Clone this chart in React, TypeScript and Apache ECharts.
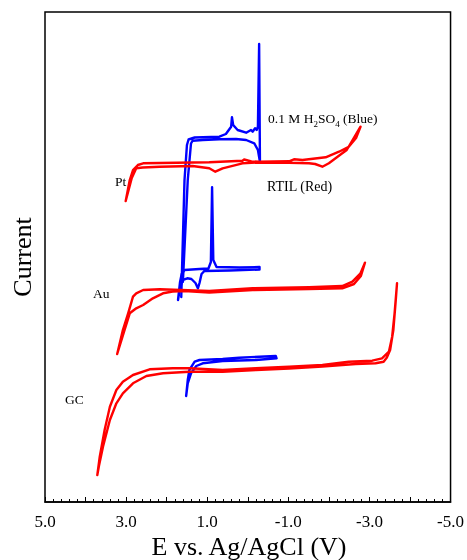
import React, { useEffect, useRef } from "react";
import * as echarts from "echarts";

// Tick labels shown on the potential axis
const xTickLabels = ["5.0", "3.0", "1.0", "-1.0", "-3.0", "-5.0"];

// Pt electrode, RTIL (red) — potential (V) / current (a.u.)
const ptRtilE = [3.01, 2.91, 2.83, 2.71, 2.58, 1.76, 0.95, 0.13, 0.09, -0.09, -0.28, -1.02, -1.14, -1.35, -1.92, -2.25, -2.49, -2.67, -2.78,
  -2.44, -2.33, -2.0, -1.84, -1.66, -1.51, -1.02, -0.28, 0.13, 0.62, 0.8, 0.95, 1.36, 2.17, 2.59, 2.75, 2.86, 3.01];
const ptRtilI = [301, 322, 332, 337, 338.7, 339.3, 339.7, 341.3, 342.5, 340.5, 340.3, 340.7, 342.7, 342, 344.7, 350.3, 355.3, 364, 375.3,
  352, 348.7, 338.7, 335.3, 338, 338.7, 339.3, 339.5, 338.7, 333.7, 330.3, 333.7, 336, 335.3, 334.5, 333.7, 324, 301];

// Pt electrode, 0.1 M H2SO4 (blue)
const ptAcidE = [1.64, 1.56, 1.5, 1.46, 1.31, 0.7, 0.54, 0.41, 0.39, 0.36, 0.25, 0.04, -0.08, -0.12, -0.18, -0.22, -0.25, -0.28, -0.3,
  -0.25, -0.16, 0.04, 0.29, 0.7, 1.11, 1.36, 1.4, 1.48, 1.6];
const ptAcidI = [205, 322, 357, 362.5, 364.5, 365.3, 368, 375.3, 384.7, 377, 372, 369.3, 372, 370.3, 373.7, 372, 375.3, 458, 340.3,
  352, 358.7, 362, 363, 362.7, 362, 361.3, 358.5, 322, 220];

// Au electrode, RTIL (red)
const auRtilE = [3.22, 3.08, 2.95, 2.83, 2.75, 2.58, 2.17, 0.95, -0.12, -1.51, -2.33, -2.58, -2.78, -2.89,
  -2.79, -2.62, -2.33, -1.51, -0.12, 0.95, 1.56, 1.85, 2.09, 2.34, 2.58, 2.75, 2.91, 3.06, 3.22];
const auRtilI = [148, 172, 188.7, 205.3, 208.7, 212, 212.7, 211, 213.7, 214.7, 216, 220.3, 228.7, 239.3,
  226, 218, 213.7, 213, 212, 209.5, 211, 210.5, 208.7, 203.7, 197, 193.7, 188.7, 169, 148];

// Au electrode, 0.1 M H2SO4 (blue)
const auAcidE = [1.72, 1.67, 1.63, 1.56, 1.19, 0.97, 0.91, 0.88, 0.85, 0.77, 0.21, -0.29,
  -0.29, 0.45, 1.07, 1.14, 1.19, 1.23, 1.29, 1.39, 1.49, 1.61, 1.68, 1.72];
const auAcidI = [202, 220, 228, 232, 233, 233.5, 240, 314.7, 242, 235, 234.5, 235,
  232.5, 231.5, 231, 228, 219, 213.7, 219, 223, 223.7, 222, 212, 202];

// GC electrode, RTIL (red)
const gcRtilE = [3.71, 3.65, 3.53, 3.4, 3.24, 3.08, 2.83, 2.42, 1.85, 1.44, 0.62, -0.2, -1.02, -1.84, -2.49, -3.07, -3.31, -3.48, -3.56, -3.62, -3.68,
  -3.65, -3.59, -3.51, -3.43, -3.35, -3.15, -2.66, -1.84, -1.02, -0.2, 0.62, 1.44, 2.09, 2.5, 2.83, 3.08, 3.24, 3.4, 3.57, 3.67, 3.71];
const gcRtilI = [27, 45.3, 72, 95.3, 112, 120.3, 127, 132.7, 133.7, 133.7, 132, 133.7, 135.3, 137, 140.3, 141.3, 143.7, 150.3, 165.3, 188.7, 218.7,
  202, 172, 152, 144.5, 140.3, 138.7, 138, 135.5, 133.5, 132, 130.3, 130.3, 128.7, 126, 118.7, 108.7, 98.7, 82, 55.3, 36, 27];

// GC electrode, 0.1 M H2SO4 (blue)
const gcAcidE = [1.52, 1.48, 1.44, 1.31, 1.19, 0.62, 0.21, -0.69, -0.71, -0.2, 0.62, 1.11, 1.27, 1.4, 1.48, 1.52];
const gcAcidI = [106, 122, 132, 140.3, 142, 143, 144.3, 146, 143.7, 142, 141, 138.7, 136, 128.7, 118.7, 106];

const zip = (e: number[], i: number[]) => e.map((v, k) => [v, i[k]]);

const RED = "#ff0000";
const BLUE = "#0000ff";
const FONT = "Liberation Serif";

export default function App() {
  const ref = useRef<HTMLDivElement>(null);
  useEffect(() => {
    if (!ref.current) return;
    const chart = echarts.init(ref.current, null, { renderer: "svg" });
    const mk = (name: string, e: number[], i: number[], color: string) => ({
      name,
      type: "line",
      data: zip(e, i),
      showSymbol: false,
      symbol: "none",
      smooth: false,
      lineStyle: { color, width: 2.4, join: "round", cap: "round" },
      z: color === RED ? 3 : 2,
    });
    const txt = (x: number, y: number, text: string, size = 13.5, extra: any = {}) => ({
      type: "text",
      x,
      y,
      style: { text, fontFamily: FONT, fontSize: size, fill: "#000", textVerticalAlign: "middle", ...extra },
    });
    chart.setOption({
      animation: false,
      grid: { left: 45, right: 15, top: 12, bottom: 58, show: true, borderColor: "#000", borderWidth: 1.5, backgroundColor: "transparent" },
      xAxis: {
        type: "value",
        min: -5,
        max: 5,
        interval: 1,
        inverse: true,
        axisLine: { show: true, lineStyle: { color: "#000", width: 1.5 } },
        axisTick: { show: true, inside: true, length: 5, lineStyle: { color: "#000", width: 1 } },
        minorTick: { show: true, splitNumber: 5, length: 3, lineStyle: { color: "#000", width: 1 } },
        splitLine: { show: false },
        axisLabel: {
          color: "#000",
          fontFamily: FONT,
          fontSize: 17,
          margin: 11,
          formatter: (v: number) => {
            const s = v.toFixed(1);
            return xTickLabels.indexOf(s) >= 0 ? s : "";
          },
        },
      },
      yAxis: { type: "value", min: 0, max: 490, show: false, splitLine: { show: false } },
      series: [
        mk("Pt H2SO4", ptAcidE, ptAcidI, BLUE),
        mk("Au H2SO4", auAcidE, auAcidI, BLUE),
        mk("GC H2SO4", gcAcidE, gcAcidI, BLUE),
        mk("Pt RTIL", ptRtilE, ptRtilI, RED),
        mk("Au RTIL", auRtilE, auRtilI, RED),
        mk("GC RTIL", gcRtilE, gcRtilI, RED),
      ],
      graphic: [
        txt(115, 181, "Pt"),
        txt(93, 293, "Au"),
        txt(65, 399, "GC"),
        {
          type: "text",
          x: 268,
          y: 118,
          style: {
            text: "{a|0.1 M H}{s|2}{a|SO}{s|4}{a| (Blue)}",
            fontFamily: FONT,
            fill: "#000",
            textVerticalAlign: "middle",
            rich: {
              a: { fontFamily: FONT, fontSize: 13.5, lineHeight: 21, verticalAlign: "middle", color: "#000" },
              s: { fontFamily: FONT, fontSize: 9, lineHeight: 21, verticalAlign: "bottom", color: "#000" },
            },
          },
        },
        txt(267, 186, "RTIL (Red)", 14),
        txt(249, 546, "E vs. Ag/AgCl (V)", 26, { textAlign: "center" }),
        {
          type: "text",
          x: 22,
          y: 257,
          rotation: Math.PI / 2,
          style: { text: "Current", fontFamily: FONT, fontSize: 26, fill: "#000", textAlign: "center", textVerticalAlign: "middle" },
        },
      ],
    });
    return () => chart.dispose();
  }, []);
  return <div ref={ref} style={{ position: "fixed", left: 0, top: 0, width: 467, height: 560 }} />;
}
